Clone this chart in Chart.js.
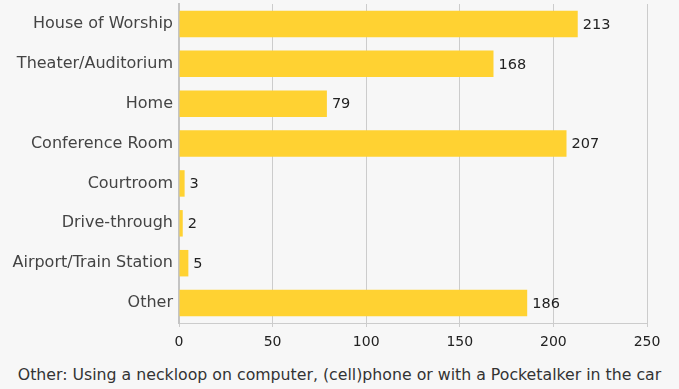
<!DOCTYPE html>
<html lang="en">
  <head>
    <meta charset="UTF-8" />
    <title>Venue Types</title>
    <script src="https://cdn.jsdelivr.net/npm/chart.js"></script>
    <style>
      html, body {
        margin: 0;
        padding: 0;
        background: #f7f7f7;
      }
      .chart-box {
        width: 679px;
        height: 360px;
      }
      .caption {
        width: 679px;
        height: 29px;
        line-height: 29px;
        text-align: center;
        font-family: "DejaVu Sans", sans-serif;
        font-size: 15.75px;
        color: #333;
        white-space: nowrap;
      }
    </style>
  </head>
  <body>
    <div class="chart-box">
      <canvas id="venueChart"></canvas>
    </div>
    <div class="caption" id="caption"></div>

    <script>
      const venues = [
        "House of Worship",
        "Theater/Auditorium",
        "Home",
        "Conference Room",
        "Courtroom",
        "Drive-through",
        "Airport/Train Station",
        "Other"
      ];
      const counts = [213, 168, 79, 207, 3, 2, 5, 186];
      const xTicks = [0, 50, 100, 150, 200, 250];
      const caption = "Other: Using a neckloop on computer, (cell)phone or with a Pocketalker in the car";

      const FONT = "'DejaVu Sans', sans-serif";

      document.getElementById("caption").textContent = caption;

      // values printed just past the end of each bar
      const barValues = {
        id: "barValues",
        afterDatasetsDraw(chart) {
          const ctx = chart.ctx;
          const meta = chart.getDatasetMeta(0);
          ctx.save();
          ctx.font = "14.5px " + FONT;
          ctx.fillStyle = "#222";
          ctx.textAlign = "left";
          ctx.textBaseline = "middle";
          meta.data.forEach((bar, i) => {
            ctx.fillText(String(counts[i]), bar.x + 5, bar.y + 1);
          });
          ctx.restore();
        }
      };

      new Chart(document.getElementById("venueChart"), {
        type: "bar",
        data: {
          labels: venues,
          datasets: [
            {
              data: counts,
              backgroundColor: "#ffd232",
              barPercentage: 0.8,
              categoryPercentage: 0.83
            }
          ]
        },
        options: {
          indexAxis: "y",
          responsive: true,
          maintainAspectRatio: false,
          animation: false,
          layout: { padding: { top: 4, right: 32, left: 0, bottom: 0 } },
          plugins: {
            legend: { display: false },
            tooltip: { enabled: false }
          },
          scales: {
            x: {
              min: 0,
              max: 250,
              afterBuildTicks: (scale) => {
                scale.ticks = xTicks.map((v) => ({ value: v }));
              },
              afterFit: (scale) => {
                scale.height = 37;
              },
              grid: {
                color: "#cccccc",
                lineWidth: 1,
                tickLength: 4
              },
              border: { color: "#cccccc", width: 1 },
              ticks: {
                color: "#222",
                padding: 7,
                font: { family: FONT, size: 14 }
              }
            },
            y: {
              afterFit: (scale) => {
                scale.width = 179;
              },
              // invisible tick marks only to push labels off the axis
              grid: {
                display: true,
                drawOnChartArea: false,
                drawTicks: true,
                tickLength: 6,
                color: "rgba(0,0,0,0)"
              },
              border: { color: "#c4c4c4", width: 2 },
              ticks: {
                color: "#444",
                padding: 0,
                font: { family: FONT, size: 16, lineHeight: 0.4 }
              }
            }
          }
        },
        plugins: [barValues]
      });
    </script>
  </body>
</html>
